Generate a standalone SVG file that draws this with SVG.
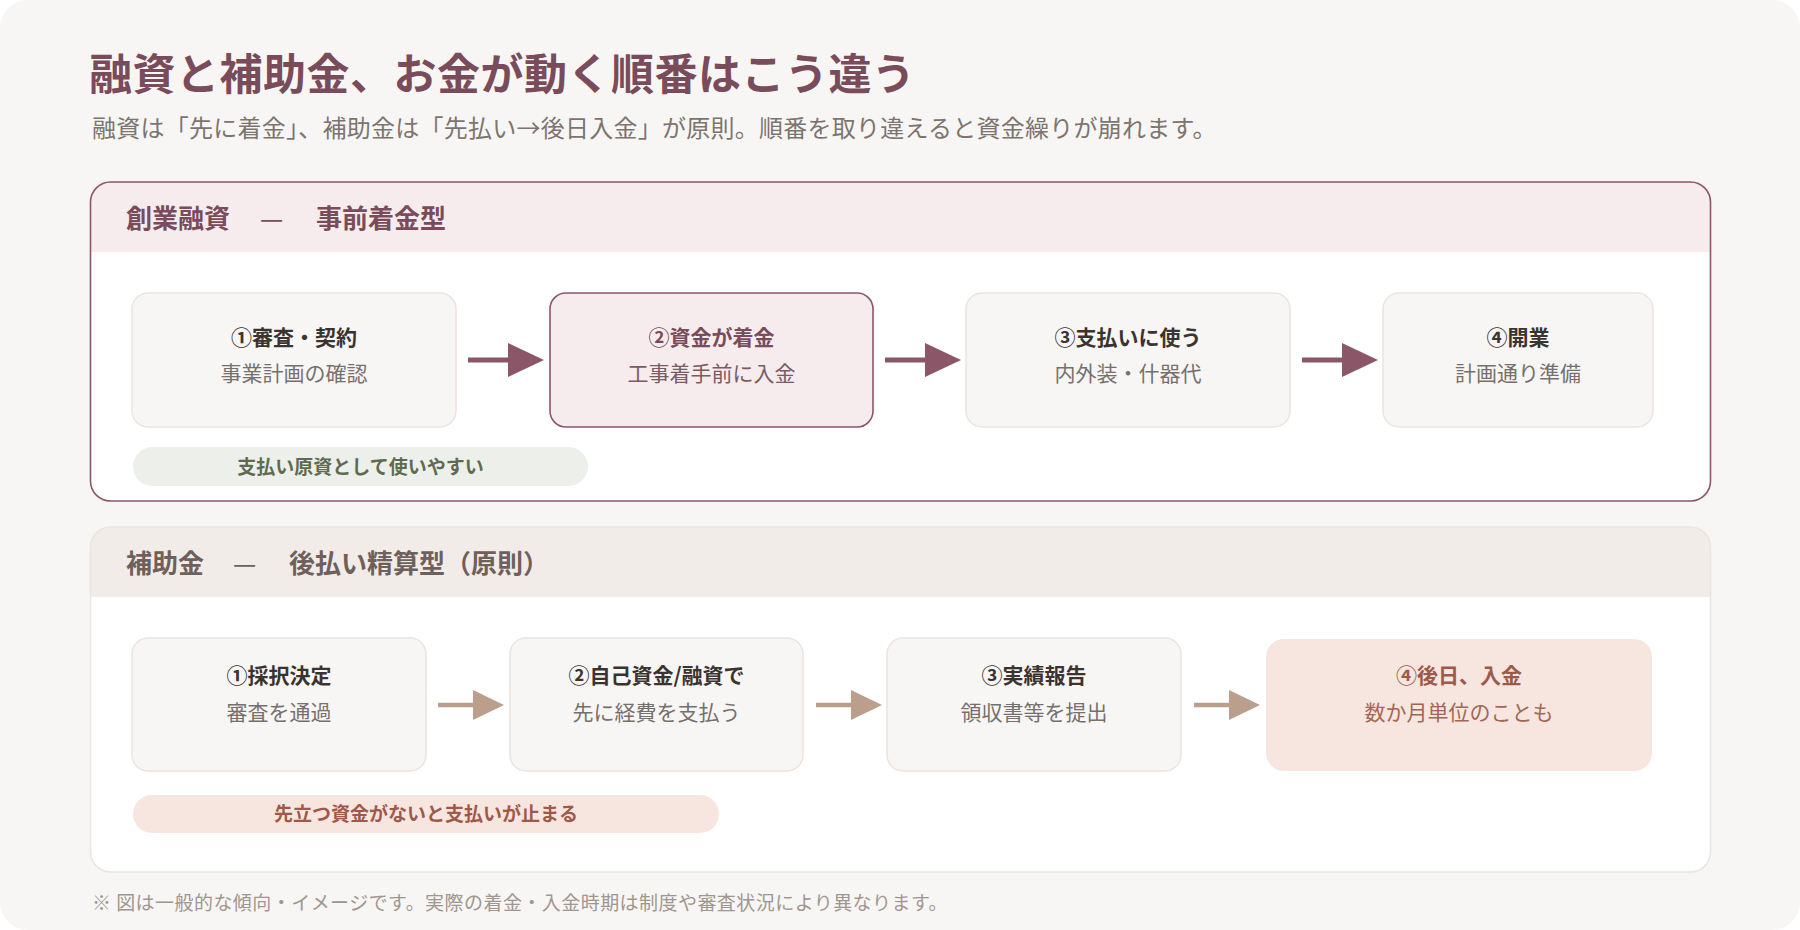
<svg xmlns="http://www.w3.org/2000/svg" width="1800" height="930" viewBox="0 0 1800 930">
<defs>
<style>
text{font-family:"Noto Sans CJK JP","Noto Sans",sans-serif;}
.title{font-size:43px;font-weight:700;fill:#7a4b5a;letter-spacing:0.5px;}
.sub{font-size:24px;fill:#7d7470;letter-spacing:0.25px;}
.foot{font-size:19px;fill:#a0958f;letter-spacing:0.45px;}
.hd1{font-size:26px;font-weight:700;fill:#7a4b5a;}
.hd2{font-size:26px;font-weight:700;fill:#6e605a;}
.dash{font-weight:400;}
.bx{fill:#f8f6f4;stroke:#ebe4df;stroke-width:1.5;}
.bt{font-size:21px;font-weight:700;fill:#3a3330;text-anchor:middle;}
.bs{font-size:21px;fill:#76706c;text-anchor:middle;}
.a1{stroke:#8a5668;stroke-width:5;}
.a2{stroke:#bb9e8b;stroke-width:4.5;}
.pt{font-size:19px;font-weight:700;text-anchor:middle;}
</style>
<marker id="h1" viewBox="0 0 36 34" refX="0" refY="17" markerWidth="36" markerHeight="34" markerUnits="userSpaceOnUse" orient="auto"><path d="M0,0 L36,17 L0,34 Z" fill="#8a5668"/></marker>
<marker id="h2" viewBox="0 0 31 30" refX="0" refY="15" markerWidth="31" markerHeight="30" markerUnits="userSpaceOnUse" orient="auto"><path d="M0,0 L31,15 L0,30 Z" fill="#bb9e8b"/></marker>
</defs>
<rect x="0" y="0" width="1800" height="930" fill="#ffffff"/>
<rect x="0" y="0" width="1800" height="930" rx="28" fill="#f8f6f4"/>
<text class="title" x="89" y="90">融資と補助金、お金が動く順番はこう違う</text>
<text class="sub" x="92" y="137">融資は「先に着金」、補助金は「先払い→後日入金」が原則。順番を取り違えると資金繰りが崩れます。</text>

<g id="section-loan">
<rect x="90.5" y="182" width="1620" height="319" rx="20" fill="#ffffff"/>
<path d="M90.5,252 V202 A20,20 0 0 1 110.5,182 H1690.5 A20,20 0 0 1 1710.5,202 V252 Z" fill="#f6ecee"/>
<rect x="90.5" y="182" width="1620" height="319" rx="20" fill="none" stroke="#8a5668" stroke-width="1.6"/>
<text class="hd1" y="228"><tspan x="126">創業融資</tspan><tspan class="dash" x="260">—</tspan><tspan x="316">事前着金型</tspan></text>
</g>
<g id="loan-1">
<rect class="bx" x="132" y="293" width="324" height="134" rx="16"/>
<text class="bt" x="294" y="345">①審査・契約</text>
<text class="bs" x="294" y="381">事業計画の確認</text>
</g>
<g id="loan-2">
<rect x="550" y="293" width="323" height="134" rx="16" fill="#f6ecee" stroke="#8a5668" stroke-width="1.6"/>
<text class="bt" x="711.5" y="345" style="fill:#7a4b5a">②資金が着金</text>
<text class="bs" x="711.5" y="381" style="fill:#7a5a63">工事着手前に入金</text>
</g>
<g id="loan-3">
<rect class="bx" x="966" y="293" width="324" height="134" rx="16"/>
<text class="bt" x="1128" y="345">③支払いに使う</text>
<text class="bs" x="1128" y="381">内外装・什器代</text>
</g>
<g id="loan-4">
<rect class="bx" x="1383" y="293" width="270" height="134" rx="16"/>
<text class="bt" x="1518" y="345">④開業</text>
<text class="bs" x="1518" y="381">計画通り準備</text>
</g>
<g id="loan-note">
<rect x="133" y="447" width="455" height="39" rx="19.5" fill="#edf0ea"/>
<text class="pt" x="360.5" y="474" style="fill:#5f6b4f">支払い原資として使いやすい</text>
</g>

<g id="section-subsidy">
<rect x="90.5" y="527" width="1620" height="345" rx="20" fill="#ffffff"/>
<path d="M90.5,597 V547 A20,20 0 0 1 110.5,527 H1690.5 A20,20 0 0 1 1710.5,547 V597 Z" fill="#f2ece8"/>
<rect x="90.5" y="527" width="1620" height="345" rx="20" fill="none" stroke="#ebe5e0" stroke-width="1.6"/>
<text class="hd2" y="573"><tspan x="126">補助金</tspan><tspan class="dash" x="233">—</tspan><tspan x="289">後払い精算型（原則）</tspan></text>
</g>
<g id="sub-1">
<rect class="bx" x="132" y="638" width="294" height="133" rx="16"/>
<text class="bt" x="279" y="683">①採択決定</text>
<text class="bs" x="279" y="720">審査を通過</text>
</g>
<g id="sub-2">
<rect class="bx" x="510" y="638" width="293" height="133" rx="16"/>
<text class="bt" x="656.5" y="683">②自己資金/融資で</text>
<text class="bs" x="656.5" y="720">先に経費を支払う</text>
</g>
<g id="sub-3">
<rect class="bx" x="887" y="638" width="294" height="133" rx="16"/>
<text class="bt" x="1034" y="683">③実績報告</text>
<text class="bs" x="1034" y="720">領収書等を提出</text>
</g>
<g id="sub-4">
<rect x="1266" y="639" width="386" height="132" rx="18" fill="#f7e6df"/>
<text class="bt" x="1459" y="683" style="fill:#9c5a4b">④後日、入金</text>
<text class="bs" x="1459" y="720" style="fill:#a26656">数か月単位のことも</text>
</g>
<g id="sub-note">
<rect x="133" y="795" width="586" height="38" rx="19" fill="#f7e6df"/>
<text class="pt" x="426" y="821" style="fill:#a0584a">先立つ資金がないと支払いが止まる</text>
</g>

<g id="connectors">
<line class="a1" x1="468" y1="360" x2="508" y2="360" marker-end="url(#h1)"/>
<line class="a1" x1="885" y1="360" x2="925" y2="360" marker-end="url(#h1)"/>
<line class="a1" x1="1302" y1="360" x2="1342" y2="360" marker-end="url(#h1)"/>
<line class="a2" x1="438" y1="705" x2="473" y2="705" marker-end="url(#h2)"/>
<line class="a2" x1="816" y1="705" x2="851" y2="705" marker-end="url(#h2)"/>
<line class="a2" x1="1194" y1="705" x2="1229" y2="705" marker-end="url(#h2)"/>
</g>

<text class="foot" x="92" y="910">※ 図は一般的な傾向・イメージです。実際の着金・入金時期は制度や審査状況により異なります。</text>
</svg>
